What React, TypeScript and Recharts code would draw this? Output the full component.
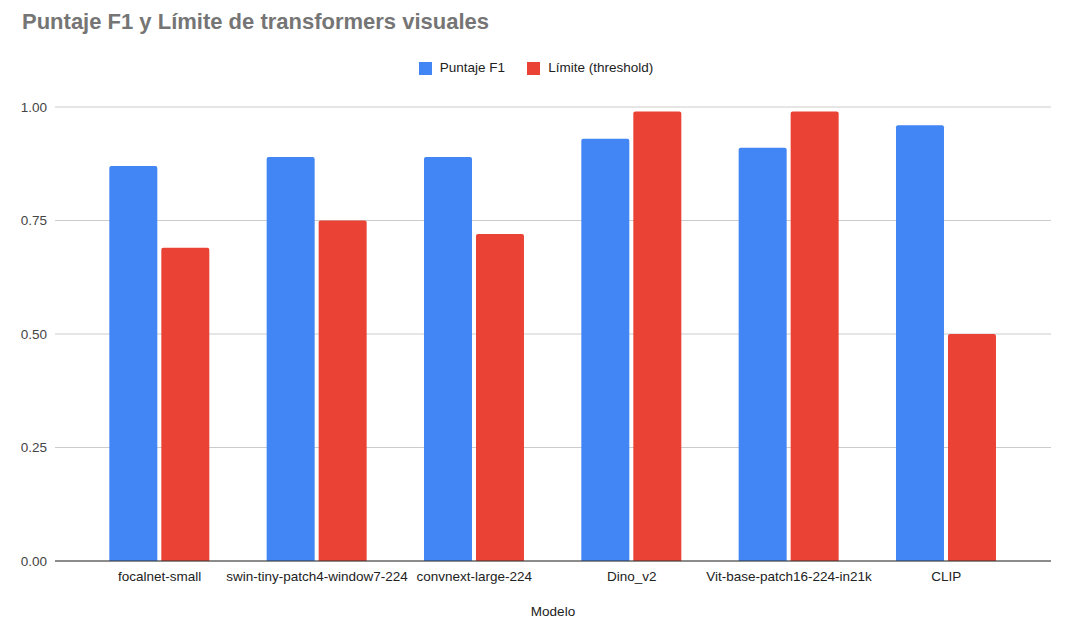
import { Bar, BarChart, CartesianGrid, Legend, XAxis, YAxis } from "recharts";

const modelos = [
  "focalnet-small",
  "swin-tiny-patch4-window7-224",
  "convnext-large-224",
  "Dino_v2",
  "Vit-base-patch16-224-in21k",
  "CLIP",
];
const puntajeF1 = [0.87, 0.89, 0.89, 0.93, 0.91, 0.96];
const limite = [0.69, 0.75, 0.72, 0.99, 0.99, 0.5];
const yTicks = [0, 0.25, 0.5, 0.75, 1];

const data = modelos.map((m, i) => ({ modelo: m, f1: puntajeF1[i], limite: limite[i] }));

const font = "'Liberation Sans', Arial, sans-serif";

export default function App() {
  return (
    <div style={{ position: "absolute", left: 0, top: 0, width: 1070, height: 638, fontFamily: font, background: "#fff" }}>
      <div style={{ position: "absolute", left: 22, top: 9, fontSize: 22, fontWeight: "bold", color: "#757575" }}>
        Puntaje F1 y Límite de transformers visuales
      </div>
      <BarChart
        width={1070}
        height={638}
        data={data}
        margin={{ top: 92, right: 19, bottom: 17, left: 0 }}
        barCategoryGap="18%"
        barGap={4}
      >
        <CartesianGrid vertical={false} stroke="#cccccc" />
        <XAxis
          dataKey="modelo"
          padding={{ left: 26, right: 26 }}
          stroke="#333"
          tickLine={false}
          tickSize={0}
          tickMargin={10}
          height={60}
          interval={0}
          tick={{ fill: "#222", fontSize: 13.5, fontFamily: font }}
          label={{ value: "Modelo", position: "insideBottom", offset: 5, fill: "#222", fontSize: 13.5, fontFamily: font }}
        />
        <YAxis
          width={55}
          domain={[0, 1]}
          ticks={yTicks}
          tickFormatter={(v: number) => v.toFixed(2)}
          axisLine={false}
          tickLine={false}
          tickMargin={2}
          tick={{ fill: "#444", fontSize: 13.5, fontFamily: font }}
        />
        <Legend
          verticalAlign="top"
          iconType="square"
          iconSize={13}
          itemSorter={null}
          wrapperStyle={{ position: "absolute", top: 60, left: 0, width: 1094, fontSize: 13.5, fontFamily: font }}
          formatter={(v: string) => <span style={{ color: "#222", marginRight: 12, marginLeft: 4 }}>{v}</span>}
        />
        <Bar dataKey="f1" name="Puntaje F1" fill="#4285F4" radius={[2, 2, 0, 0]} isAnimationActive={false} />
        <Bar dataKey="limite" name="Límite (threshold)" fill="#EA4335" radius={[2, 2, 0, 0]} isAnimationActive={false} />
      </BarChart>
    </div>
  );
}
